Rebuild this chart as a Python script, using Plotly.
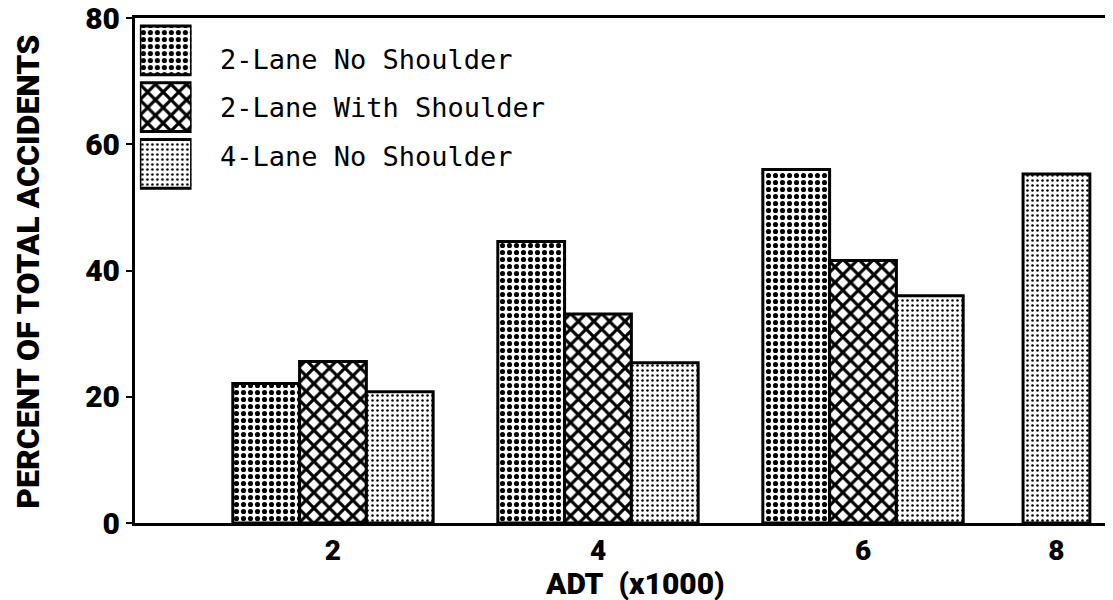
import plotly.graph_objects as go

# ADT groups (x1000) and percent of total accidents per road type
adt_labels = ["2", "4", "6", "8"]
series_names = ["2-Lane No Shoulder", "2-Lane With Shoulder", "4-Lane No Shoulder"]
two_lane_no_shoulder = [22.1, 44.6, 56.0, None]
two_lane_with_shoulder = [25.6, 33.1, 41.6, None]
four_lane_no_shoulder = [20.8, 25.4, 36.0, 55.3]

series_values = [two_lane_no_shoulder, two_lane_with_shoulder, four_lane_no_shoulder]

# layout of the hand-drawn axis: groups are not evenly spaced in the original
group_pos = [0, 1, 2, 2.73]
BAR_W = 0.252

patterns = [
    dict(shape=".", size=7, solidity=0.42, fgcolor="black", fgopacity=1,
         bgcolor="white", fillmode="overlay"),
    dict(shape="x", size=11, solidity=0.5, fgcolor="black", fgopacity=1,
         bgcolor="white", fillmode="overlay"),
    dict(shape=".", size=5, solidity=0.2, fgcolor="black", fgopacity=1,
         bgcolor="white", fillmode="overlay"),
]

BOLD = dict(family="Roboto, DejaVu Sans, sans-serif", color="black", weight=900)
MONO_FONT = dict(family="DejaVu Sans Mono, Liberation Mono, monospace", size=27, color="black")

fig = go.Figure()

# which series have a value in each group, so lone bars get centred
present = [[s for s in range(len(series_values)) if series_values[s][g] is not None]
           for g in range(len(adt_labels))]

for s, (name, vals) in enumerate(zip(series_names, series_values)):
    xs, ys, offs = [], [], []
    for g, v in enumerate(vals):
        if v is None:
            continue
        k = present[g].index(s)
        n = len(present[g])
        xs.append(group_pos[g])
        ys.append(v)
        offs.append((k - n / 2) * BAR_W)
    fig.add_trace(go.Bar(
        x=xs, y=ys, name=name, offset=offs, width=BAR_W,
        marker=dict(color="white", pattern=patterns[s],
                    line=dict(color="black", width=3)),
        showlegend=False, xaxis="x", yaxis="y",
    ))

# legend drawn as big patterned swatches in a small inset axis
for s, name in enumerate(series_names):
    fig.add_trace(go.Bar(
        x=[1], y=[name], orientation="h", width=0.86,
        marker=dict(color="white", pattern=patterns[s],
                    line=dict(color="black", width=3)),
        showlegend=False, xaxis="x2", yaxis="y2", cliponaxis=False,
    ))

legend_text_y = [0.917, 0.823, 0.725]
for name, ty in zip(series_names, legend_text_y):
    fig.add_annotation(text=name, x=0.085, y=ty, xref="paper", yref="paper",
                       xanchor="left", yanchor="middle", showarrow=False, font=MONO_FONT)

fig.add_annotation(text="PERCENT OF TOTAL ACCIDENTS", textangle=-90,
                   x=-0.11, y=0.497, xref="paper", yref="paper",
                   xanchor="center", yanchor="middle", showarrow=False,
                   font=dict(BOLD, size=32))
fig.add_annotation(text="ADT\u00a0\u00a0(x1000)",
                   x=0.513, y=-0.12, xref="paper", yref="paper",
                   xanchor="center", yanchor="middle", showarrow=False,
                   font=dict(BOLD, size=30))

# the page body adds an 8px offset, so margins are shifted to compensate
fig.update_layout(
    width=1113, height=600,
    margin=dict(l=127, r=11, t=10, b=85),
    plot_bgcolor="white", paper_bgcolor="white",
    barmode="overlay",
    xaxis=dict(
        range=[-0.747, 2.932], automargin=False,
        tickvals=group_pos, ticktext=adt_labels,
        showline=True, linecolor="black", linewidth=3, mirror=True,
        ticks="", showgrid=False, zeroline=False,
        tickfont=dict(BOLD, size=28),
    ),
    yaxis=dict(
        range=[0, 80], tickvals=[0, 20, 40, 60, 80], automargin=False,
        ticklabeloverflow="allow",
        showline=True, linecolor="black", linewidth=3, mirror=True,
        ticks="outside", ticklen=6, tickwidth=2, tickcolor="black",
        showgrid=False, zeroline=False,
        tickfont=dict(BOLD, size=30),
    ),
    xaxis2=dict(domain=[0.005, 0.058], anchor="y2", range=[0, 1], visible=False),
    yaxis2=dict(
        domain=[0.655, 0.992], anchor="x2", type="category",
        categoryorder="array", categoryarray=series_names[::-1],
        showline=False, showgrid=False, zeroline=False, showticklabels=False,
        automargin=False,
    ),
)

fig.write_html("out.html")
